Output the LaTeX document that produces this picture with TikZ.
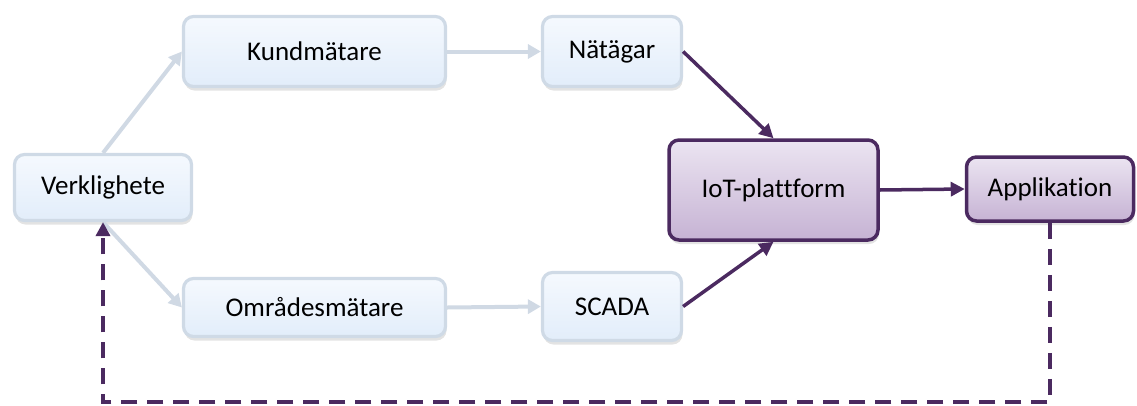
\documentclass[tikz,border=0pt]{standalone}
\usepackage{fontspec}
\setmainfont[Ligatures={NoCommon}]{Carlito}
\usetikzlibrary{arrows.meta,shadows,calc}
\definecolor{lightfillT}{HTML}{F5F9FE}
\definecolor{lightfillB}{HTML}{E2EDFA}
\definecolor{lightborder}{HTML}{CFDAE6}
\definecolor{plumfillT}{HTML}{EBE4F1}
\definecolor{plumfillB}{HTML}{C6B3D4}
\definecolor{plum}{HTML}{4B2A60}
\definecolor{graylink}{HTML}{D0D9E4}
\tikzset{
  base/.style={rounded corners=10pt, align=center, inner sep=0pt,
    font=\fontsize{27}{31}\selectfont, text=black,
    drop shadow={shadow xshift=1pt, shadow yshift=-4pt, opacity=0.28, fill=gray!80}},
  lightbox/.style={base, draw=lightborder, line width=3.2pt,
    top color=lightfillT, bottom color=lightfillB},
  plumbox/.style={base, draw=plum, line width=3.5pt,
    top color=plumfillT, bottom color=plumfillB},
  graylink/.style={draw=graylink, line width=4pt,
    -{Triangle[length=13pt,width=14pt]}},
  plumlink/.style={draw=plum, line width=3.5pt,
    -{Triangle[length=14pt,width=14pt]}},
  feedback/.style={draw=plum, line width=3.5pt, dash pattern=on 16pt off 10pt,
    -{Triangle[length=14pt,width=14pt]}}
}
\begin{document}
\begin{tikzpicture}[x=1pt,y=-1pt]
  \useasboundingbox (0,0) rectangle (1137,405);
  % boxes
  \node[lightbox, minimum width=177pt, minimum height=66pt] (verk) at (103,187.5) {Verklighete};
  \node[lightbox, minimum width=262pt, minimum height=70pt] (kund) at (314.5,51.5) {Kundmätare};
  \node[lightbox, minimum width=139pt, minimum height=70pt] (nat) at (612,51.5) {Nätägar};
  \node[lightbox, minimum width=262pt, minimum height=58pt] (omr) at (314.5,307.5) {Områdesmätare};
  \node[lightbox, minimum width=139pt, minimum height=68pt] (scada) at (612,306.5) {SCADA};
  \node[plumbox, minimum width=209pt, minimum height=100pt] (iot) at (773.5,190) {IoT-plattform};
  \node[plumbox, minimum width=167pt, minimum height=64pt] (app) at (1050,189) {Applikation};
  % measuring chain
  \draw[graylink] (verk.north) -- (kund.west);
  \draw[graylink] (verk.south) -- (omr.west);
  \draw[graylink] (kund.east) -- (nat.west);
  \draw[graylink] (omr.east) -- (scada.west);
  % platform links
  \draw[plumlink] (nat.east) -- (iot.north);
  \draw[plumlink] (scada.east) -- (iot.south);
  \draw[plumlink] (iot.east) -- (app.west);
  % feedback loop
  \coordinate (fb) at (0,402);
  \draw[feedback] (app.south) -- (app.south |- fb) -- (verk.south |- fb) -- (verk.south);
\end{tikzpicture}
\end{document}
